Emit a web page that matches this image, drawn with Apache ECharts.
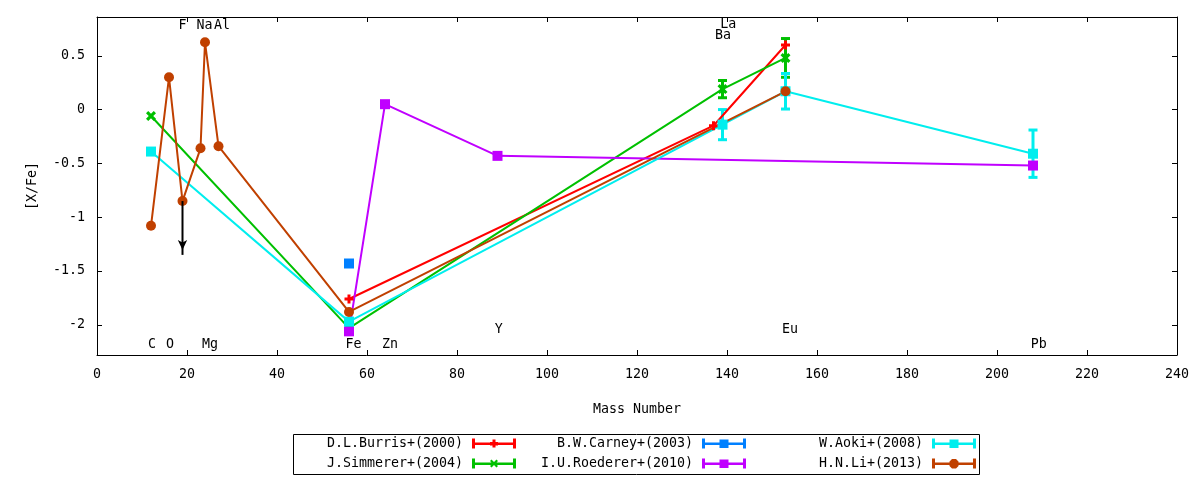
<!DOCTYPE html>
<html><head><meta charset="utf-8">
<script src="https://cdn.jsdelivr.net/npm/echarts@6/dist/echarts.min.js"></script>
<style>html,body{margin:0;padding:0;background:#fff}#c{width:1200px;height:480px}</style>
</head><body><div id="c"></div>
<script>
const FONT = 'DejaVu Sans Mono';
const FS = 13.3;
// x = mass number, y = [X/Fe], err = error bar half-length (0 = none)
const burrisX = [56, 137, 153];
const burrisY = [-1.76, -0.15, 0.60];
const burrisErr = [0, 0, 0];
const simmX = [12, 56, 139, 153];
const simmY = [-0.06, -2.03, 0.19, 0.48];
const simmErr = [0, 0, 0.08, 0.18];
const carneyX = [56];
const carneyY = [-1.43];
const roedX = [56, 64, 89, 208];
const roedY = [-2.06, 0.05, -0.43, -0.52];
const aokiX = [12, 56, 139, 153, 208];
const aokiY = [-0.39, -1.97, -0.14, 0.17, -0.41];
const aokiErr = [0, 0, 0.14, 0.165, 0.22];
const liX = [12, 16, 19, 23, 24, 27, 56, 153];
const liY = [-1.08, 0.30, -0.85, -0.36, 0.625, -0.34, -1.88, 0.17];
// upper limit arrow for F (Li 2013)
const limitX = [19, 19];
const limitY = [-0.85, -1.35];
// element annotations
const elemNames = ['C', 'O', 'F', 'Na', 'Mg', 'Al', 'Fe', 'Zn', 'Y', 'Ba', 'La', 'Eu', 'Pb'];
const elemX = [12.2, 16.2, 19.0, 23.9, 25.1, 27.8, 57.0, 65.1, 89.3, 139.1, 140.3, 154.0, 209.3];
const elemY = [-2.18, -2.18, 0.78, 0.78, -2.18, 0.78, -2.18, -2.18, -2.04, 0.69, 0.79, -2.04, -2.18];
const yTicks = [-2, -1.5, -1, -0.5, 0, 0.5];
const seriesNames = ['D.L.Burris+(2000)', 'J.Simmerer+(2004)', 'B.W.Carney+(2003)', 'I.U.Roederer+(2010)', 'W.Aoki+(2008)', 'H.N.Li+(2013)'];

const colors = {
  'D.L.Burris+(2000)': '#ff0000',
  'J.Simmerer+(2004)': '#00c000',
  'B.W.Carney+(2003)': '#0080ff',
  'I.U.Roederer+(2010)': '#c000ff',
  'W.Aoki+(2008)': '#00eeee',
  'H.N.Li+(2013)': '#c04000'
};
const PLUS = 'path://M3 0H6V9H3ZM0 3H9V6H0Z';
const XMARK = 'path://M0 2L2 0L4.5 2.5L7 0L9 2L6.5 4.5L9 7L7 9L4.5 6.5L2 9L0 7L2.5 4.5Z';
const base = 'M0 4H44V6.5H0ZM0 0H3V10H0ZM41 0H44V10H41Z';
const icons = {
  plus: 'path://' + base + 'M20.5 1H23.5V9H20.5ZM18 3.5H26V7H18Z',
  x: 'path://' + base + 'M18 2.5L19.5 1L22 3.5L24.5 1L26 2.5L23.5 5L26 7.5L24.5 9L22 6.5L19.5 9L18 7.5L20.5 5Z',
  sq: 'path://' + base + 'M17.5 1H26.5V9.5H17.5Z',
  circ: 'path://' + base + 'M20 0.5H24L26.5 3V7.5L24 10H20L17.5 7.5V3Z'
};

function pairs(xs, ys) { return xs.map((x, i) => [x, ys[i]]); }
function errData(xs, ys, es) {
  const out = [];
  xs.forEach((x, i) => { if (es[i] > 0) out.push([x, ys[i], es[i]]); });
  return out;
}
function lineSeries(name, xs, ys, symbol, size) {
  return {
    name, type: 'line', data: pairs(xs, ys), symbol, symbolSize: size, showAllSymbol: true,
    lineStyle: { color: colors[name], width: 2 }, itemStyle: { color: colors[name] },
    emphasis: { disabled: true }, animation: false, z: 3
  };
}
function errSeries(name, xs, ys, es) {
  const col = colors[name];
  return {
    name, type: 'custom', data: errData(xs, ys, es), animation: false, z: 2,
    renderItem: function (params, api) {
      const x = api.value(0), y = api.value(1), e = api.value(2);
      const t = api.coord([x, y + e]);
      const b = api.coord([x, y - e]);
      const hw = 4.5;
      const st = { stroke: col, lineWidth: 3 };
      return {
        type: 'group', children: [
          { type: 'line', shape: { x1: t[0], y1: t[1], x2: b[0], y2: b[1] }, style: st },
          { type: 'line', shape: { x1: t[0] - hw, y1: t[1], x2: t[0] + hw, y2: t[1] }, style: st },
          { type: 'line', shape: { x1: b[0] - hw, y1: b[1], x2: b[0] + hw, y2: b[1] }, style: st }
        ]
      };
    }
  };
}

const series = [
  lineSeries('D.L.Burris+(2000)', burrisX, burrisY, PLUS, 9),
  errSeries('D.L.Burris+(2000)', burrisX, burrisY, burrisErr),
  lineSeries('J.Simmerer+(2004)', simmX, simmY, XMARK, 10),
  errSeries('J.Simmerer+(2004)', simmX, simmY, simmErr),
  lineSeries('B.W.Carney+(2003)', carneyX, carneyY, 'rect', 10),
  lineSeries('I.U.Roederer+(2010)', roedX, roedY, 'rect', 10),
  errSeries('W.Aoki+(2008)', aokiX, aokiY, aokiErr),
  lineSeries('W.Aoki+(2008)', aokiX, aokiY, 'rect', 10),
  lineSeries('H.N.Li+(2013)', liX, liY, 'circle', 10),
  {
    name: 'limit', type: 'line', animation: false, z: 4,
    data: [
      { value: [limitX[0], limitY[0]], symbol: 'none' },
      { value: [limitX[1], limitY[1]], symbol: 'arrow', symbolSize: [7, 10], symbolRotate: 180, symbolOffset: [0, -5] }
    ],
    lineStyle: { color: '#000', width: 2 }, itemStyle: { color: '#000' }, emphasis: { disabled: true }
  },
  {
    name: 'elements', type: 'scatter', silent: true, animation: false, z: 5,
    data: elemNames.map((n, i) => [elemX[i], elemY[i], n]),
    symbolSize: 0, itemStyle: { color: 'rgba(0,0,0,0)' },
    label: { show: true, position: 'inside', formatter: p => p.data[2], color: '#000', opacity: 1, fontFamily: FONT, fontSize: FS }
  }
];

function legend(names, right) {
  return {
    orient: 'vertical', align: 'right', right, top: 436, padding: 0,
    itemWidth: 44, itemHeight: 10, itemGap: 5, selectedMode: false,
    textStyle: { fontFamily: FONT, fontSize: FS, color: '#000', lineHeight: 15, padding: [0, 4, 0, 0] },
    data: names.map(n => ({ name: n, icon: n.startsWith('D.L') ? icons.plus : n.startsWith('J.S') ? icons.x : n.startsWith('H.N') ? icons.circ : icons.sq, itemStyle: { color: colors[n] } }))
  };
}

const axisLabelStyle = { fontFamily: FONT, fontSize: FS, color: '#000' };
const lineSt = { show: true, onZero: false, lineStyle: { color: '#000', width: 1 } };
const option = {
  backgroundColor: '#fff',
  animation: false,
  grid: { left: 97, right: 23, top: 17, bottom: 125, outerBoundsMode: 'none', containLabel: false },
  legend: [
    legend([seriesNames[0], seriesNames[1]], 684),
    legend([seriesNames[2], seriesNames[3]], 454),
    legend([seriesNames[4], seriesNames[5]], 224)
  ],
  graphic: [{ type: 'rect', shape: { x: 293.5, y: 434.5, width: 686, height: 40 }, style: { fill: 'none', stroke: '#000', lineWidth: 1 }, silent: true }],
  xAxis: [
    {
      type: 'value', min: 0, max: 240, interval: 20, position: 'bottom',
      name: 'Mass Number', nameLocation: 'middle', nameGap: 48,
      nameTextStyle: { fontFamily: FONT, fontSize: FS, color: '#000' },
      axisLine: lineSt,
      axisTick: { show: true, inside: true, length: 5, lineStyle: { color: '#000' } },
      axisLabel: Object.assign({ margin: 13 }, axisLabelStyle),
      splitLine: { show: false }
    },
    {
      type: 'value', min: 0, max: 240, interval: 20, position: 'top',
      axisLine: lineSt,
      axisTick: { show: true, inside: true, length: 5, lineStyle: { color: '#000' } },
      axisLabel: { show: false }, splitLine: { show: false }
    }
  ],
  yAxis: [
    {
      type: 'value', min: -2.28, max: 0.86, position: 'left',
      name: '[X/Fe]', nameLocation: 'middle', nameGap: 58,
      nameTextStyle: { fontFamily: FONT, fontSize: FS, color: '#000' },
      axisLine: lineSt,
      axisTick: { show: true, inside: true, length: 5, customValues: yTicks, lineStyle: { color: '#000' } },
      axisLabel: Object.assign({ margin: 12, customValues: yTicks }, axisLabelStyle),
      splitLine: { show: false }
    },
    {
      type: 'value', min: -2.28, max: 0.86, position: 'right',
      axisLine: lineSt,
      axisTick: { show: true, inside: true, length: 5, customValues: yTicks, lineStyle: { color: '#000' } },
      axisLabel: { show: false, customValues: yTicks }, splitLine: { show: false }
    }
  ],
  series
};
const chart = echarts.init(document.getElementById('c'));
chart.setOption(option);
</script></body></html>
